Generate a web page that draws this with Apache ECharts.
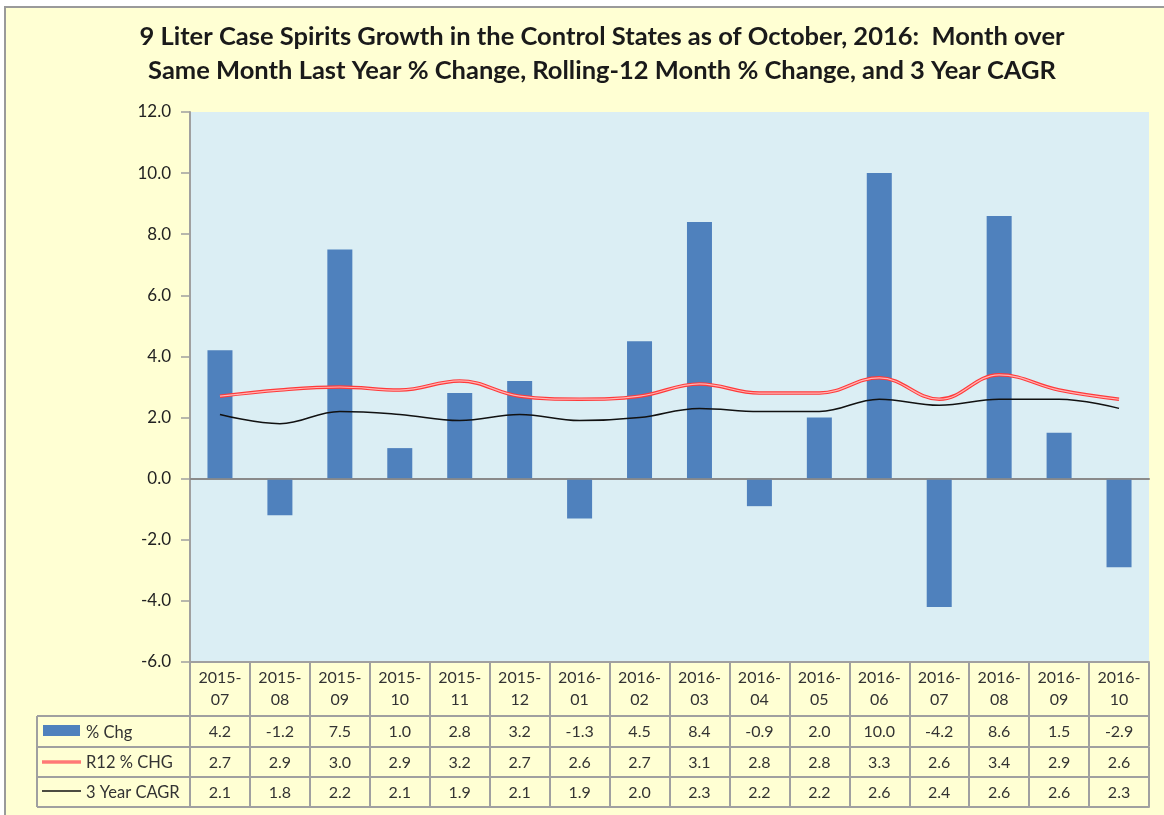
<!DOCTYPE html>
<html>
<head>
<meta charset="utf-8">
<script src="https://cdn.jsdelivr.net/npm/echarts@6/dist/echarts.min.js"></script>
<style>
    html, body { margin: 0; padding: 0; background: #fff; }
    #wrap { position: relative; width: 1164px; height: 815px; overflow: hidden; }
    #bg { position: absolute; left: 4px; top: 6px; width: 1200px; height: 900px; background: #FFFFD3; border: 2px solid #9a9a9a; box-sizing: border-box; }
    #main { position: absolute; left: 0; top: 0; width: 1164px; height: 815px; }
</style>
</head>
<body>
<div id="wrap"><div id="bg"></div><div id="main"></div></div>
<script>
// months shown on the category axis / table header
var months = ['2015-07', '2015-08', '2015-09', '2015-10', '2015-11', '2015-12', '2016-01', '2016-02',
    '2016-03', '2016-04', '2016-05', '2016-06', '2016-07', '2016-08', '2016-09', '2016-10'];
var pctChg = [4.2, -1.2, 7.5, 1.0, 2.8, 3.2, -1.3, 4.5, 8.4, -0.9, 2.0, 10.0, -4.2, 8.6, 1.5, -2.9];
var r12Chg = [2.7, 2.9, 3.0, 2.9, 3.2, 2.7, 2.6, 2.7, 3.1, 2.8, 2.8, 3.3, 2.6, 3.4, 2.9, 2.6];
var cagr3 = [2.1, 1.8, 2.2, 2.1, 1.9, 2.1, 1.9, 2.0, 2.3, 2.2, 2.2, 2.6, 2.4, 2.6, 2.6, 2.3];
var seriesNames = ['% Chg', 'R12 % CHG', '3 Year CAGR'];
var yTicks = { min: -6, max: 12, step: 2 };

var FONT = 'Lato, "Open Sans", sans-serif';
var GRID_COLOR = '#a0a0a0';

function render_chart() {
    var dom = document.getElementById('main');
    var myChart = echarts.init(dom, null, { renderer: 'canvas' });

    // one x axis per table row, stacked under the plot
    function tableAxis(offset, tickLen, formatter, showLabel) {
        return {
            type: 'category',
            position: 'bottom',
            offset: offset,
            data: months,
            axisLine: { show: true, onZero: false, lineStyle: { color: GRID_COLOR, width: 2 } },
            axisTick: { show: tickLen > 0, interval: 0, length: tickLen, lineStyle: { color: GRID_COLOR, width: 2 } },
            axisLabel: {
                show: showLabel,
                interval: 0,
                margin: 7,
                fontFamily: FONT,
                fontSize: 16,
                lineHeight: 18,
                color: '#333',
                formatter: formatter
            },
            splitLine: { show: false }
        };
    }

    var header = tableAxis(0, 54, function (v) { return v.replace('-', '-\n'); }, true);
    header.axisLabel.lineHeight = 22;
    header.axisLabel.margin = 5;

    var xAxes = [
        header,
        tableAxis(54, 30, function (v, i) { return pctChg[i].toFixed(1); }, true),
        tableAxis(85, 30, function (v, i) { return r12Chg[i].toFixed(1); }, true),
        tableAxis(115, 30, function (v, i) { return cagr3[i].toFixed(1); }, true),
        tableAxis(145, 0, null, false),
        {
            type: 'category', position: 'top', data: months,
            axisLine: { show: true, lineStyle: { color: '#8a8a8a', width: 2 } },
            axisTick: { show: false }, axisLabel: { show: false }
        }
    ];

    // row label column of the data table
    var rowTop = [716, 747, 777, 807];
    var graphics = [];
    rowTop.forEach(function (y) {
        graphics.push({ type: 'line', silent: true, shape: { x1: 37, y1: y, x2: 191, y2: y }, style: { stroke: GRID_COLOR, lineWidth: 2 } });
    });
    graphics.push({ type: 'line', silent: true, shape: { x1: 37, y1: 716, x2: 37, y2: 807 }, style: { stroke: GRID_COLOR, lineWidth: 2 } });
    graphics.push({ type: 'rect', silent: true, shape: { x: 43, y: 725, width: 37, height: 11 }, style: { fill: '#4F81BD' } });
    graphics.push({ type: 'line', silent: true, shape: { x1: 42, y1: 762, x2: 81, y2: 762 }, style: { stroke: '#FF4040', lineWidth: 3 } });
    graphics.push({ type: 'line', silent: true, shape: { x1: 42, y1: 762, x2: 81, y2: 762 }, style: { stroke: '#FFB0B0', lineWidth: 1 } });
    graphics.push({ type: 'line', silent: true, shape: { x1: 42, y1: 791, x2: 81, y2: 791 }, style: { stroke: '#111', lineWidth: 1.5 } });
    seriesNames.forEach(function (name, i) {
        graphics.push({
            type: 'text', silent: true, x: 86, y: (rowTop[i] + rowTop[i + 1]) / 2 + 1,
            style: { text: name, fontFamily: FONT, fontSize: 16.5, fill: '#333', textVerticalAlign: 'middle', verticalAlign: 'middle' }
        });
    });

    var option = {
        animation: false,
        title: {
            text: '9 Liter Case Spirits Growth in the Control States as of October, 2016:  Month over\nSame Month Last Year % Change, Rolling-12 Month % Change, and 3 Year CAGR',
            left: 597,
            top: 15,
            textAlign: 'center',
            textStyle: { fontFamily: FONT, fontSize: 25.5, fontWeight: 'bold', color: '#1a1a1a', lineHeight: 34 }
        },
        grid: {
            left: 190, right: 15, top: 112, bottom: 153,
            show: true, backgroundColor: '#DBEEF4', borderWidth: 0
        },
        xAxis: xAxes,
        yAxis: {
            type: 'value',
            min: yTicks.min, max: yTicks.max, interval: yTicks.step,
            axisLine: { show: true, lineStyle: { color: GRID_COLOR, width: 2 } },
            axisTick: { show: true, length: 9, lineStyle: { color: GRID_COLOR, width: 1.5 } },
            axisLabel: {
                margin: 19, fontFamily: FONT, fontSize: 17, color: '#222',
                formatter: function (v) { return v.toFixed(1); }
            },
            splitLine: { show: false }
        },
        series: [
            {
                name: seriesNames[0], type: 'bar', data: pctChg, barWidth: 25,
                itemStyle: { color: '#4F81BD' },
                markLine: {
                    silent: true, symbol: 'none', label: { show: false },
                    lineStyle: { color: '#8a8a8a', width: 1.5, type: 'solid' },
                    data: [{ yAxis: 0 }]
                }
            },
            {
                name: seriesNames[1], type: 'line', data: r12Chg, smooth: 0.4, symbol: 'none',
                lineStyle: { color: '#FF3A3A', width: 3.5 }
            },
            {
                name: seriesNames[1] + ' inner', type: 'line', data: r12Chg, smooth: 0.4, symbol: 'none',
                lineStyle: { color: '#FFB4B4', width: 1.2 }
            },
            {
                name: seriesNames[2], type: 'line', data: cagr3, smooth: 0.4, symbol: 'none',
                lineStyle: { color: '#111', width: 1.5 }
            }
        ],
        graphic: graphics
    };
    myChart.setOption(option);
}

render_chart();
</script>
</body>
</html>
